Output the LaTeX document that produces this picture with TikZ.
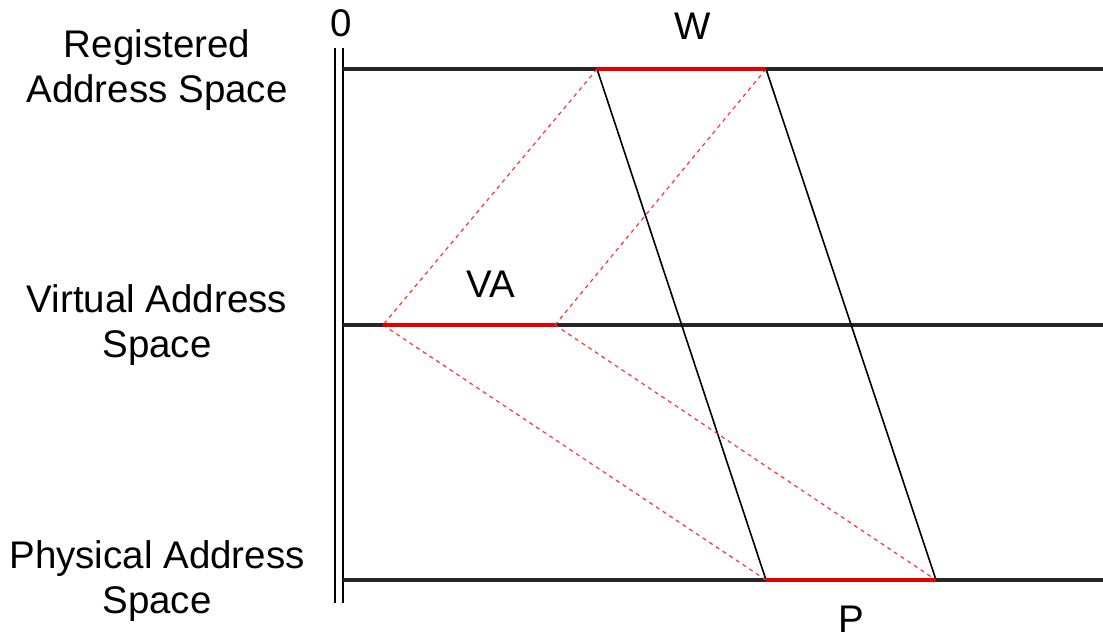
\documentclass[tikz,border=0pt]{standalone}
\usepackage{fontspec}
\setmainfont{Liberation Sans}
\begin{document}
\begin{tikzpicture}[x=1pt,y=-1pt,
  axis/.style={line width=3.2pt,black!85},
  seg/.style={line width=4.5pt,red!90!black},
  map/.style={line width=1.6pt,black},
  dmap/.style={line width=1.2pt,red!80,dash pattern=on 4pt off 4pt},
  lbl/.style={font=\fontsize{38.5}{45}\selectfont,align=center,inner sep=0pt}]
\useasboundingbox (0,0) rectangle (1103,637);
% vertical double axis
\draw[line width=2.2pt] (335,48) -- (335,603);
\draw[line width=2.2pt] (343,48) -- (343,603);
% coordinates
\coordinate (r0) at (343,69);  \coordinate (rE) at (1103,69);
\coordinate (v0) at (343,325); \coordinate (vE) at (1103,325);
\coordinate (p0) at (343,580); \coordinate (pE) at (1103,580);
\coordinate (w1) at (597,69);  \coordinate (w2) at (766,69);
\coordinate (a1) at (383,325); \coordinate (a2) at (555,325);
\coordinate (b1) at (766,580); \coordinate (b2) at (936,580);
\draw[axis] (r0) -- (rE);
\draw[axis] (v0) -- (vE);
\draw[axis] (p0) -- (pE);
% mappings
\draw[map] (w1) -- (b1);
\draw[map] (w2) -- (b2);
\draw[dmap] (w1) -- (a1);
\draw[dmap] (w2) -- (a2);
\draw[dmap] (a1) -- (b1);
\draw[dmap] (a2) -- (b2);
% red segments
\draw[seg] (w1) -- (w2);
\draw[seg] (a1) -- (a2);
\draw[seg] (b1) -- (b2);
% labels
\node[lbl] (zero) at (341,23) {0};
\node[lbl] (W) at (693,26) {W};
\node[lbl] (VA) at (491,284) {VA};
\node[lbl] (P) at (851,619) {P};
\node[lbl] (reg) at (157,70) {Registered\\Address Space};
\node[lbl] (virt) at (157,325) {Virtual Address\\Space};
\node[lbl] (phys) at (157,581) {Physical Address\\Space};
\end{tikzpicture}
\end{document}
